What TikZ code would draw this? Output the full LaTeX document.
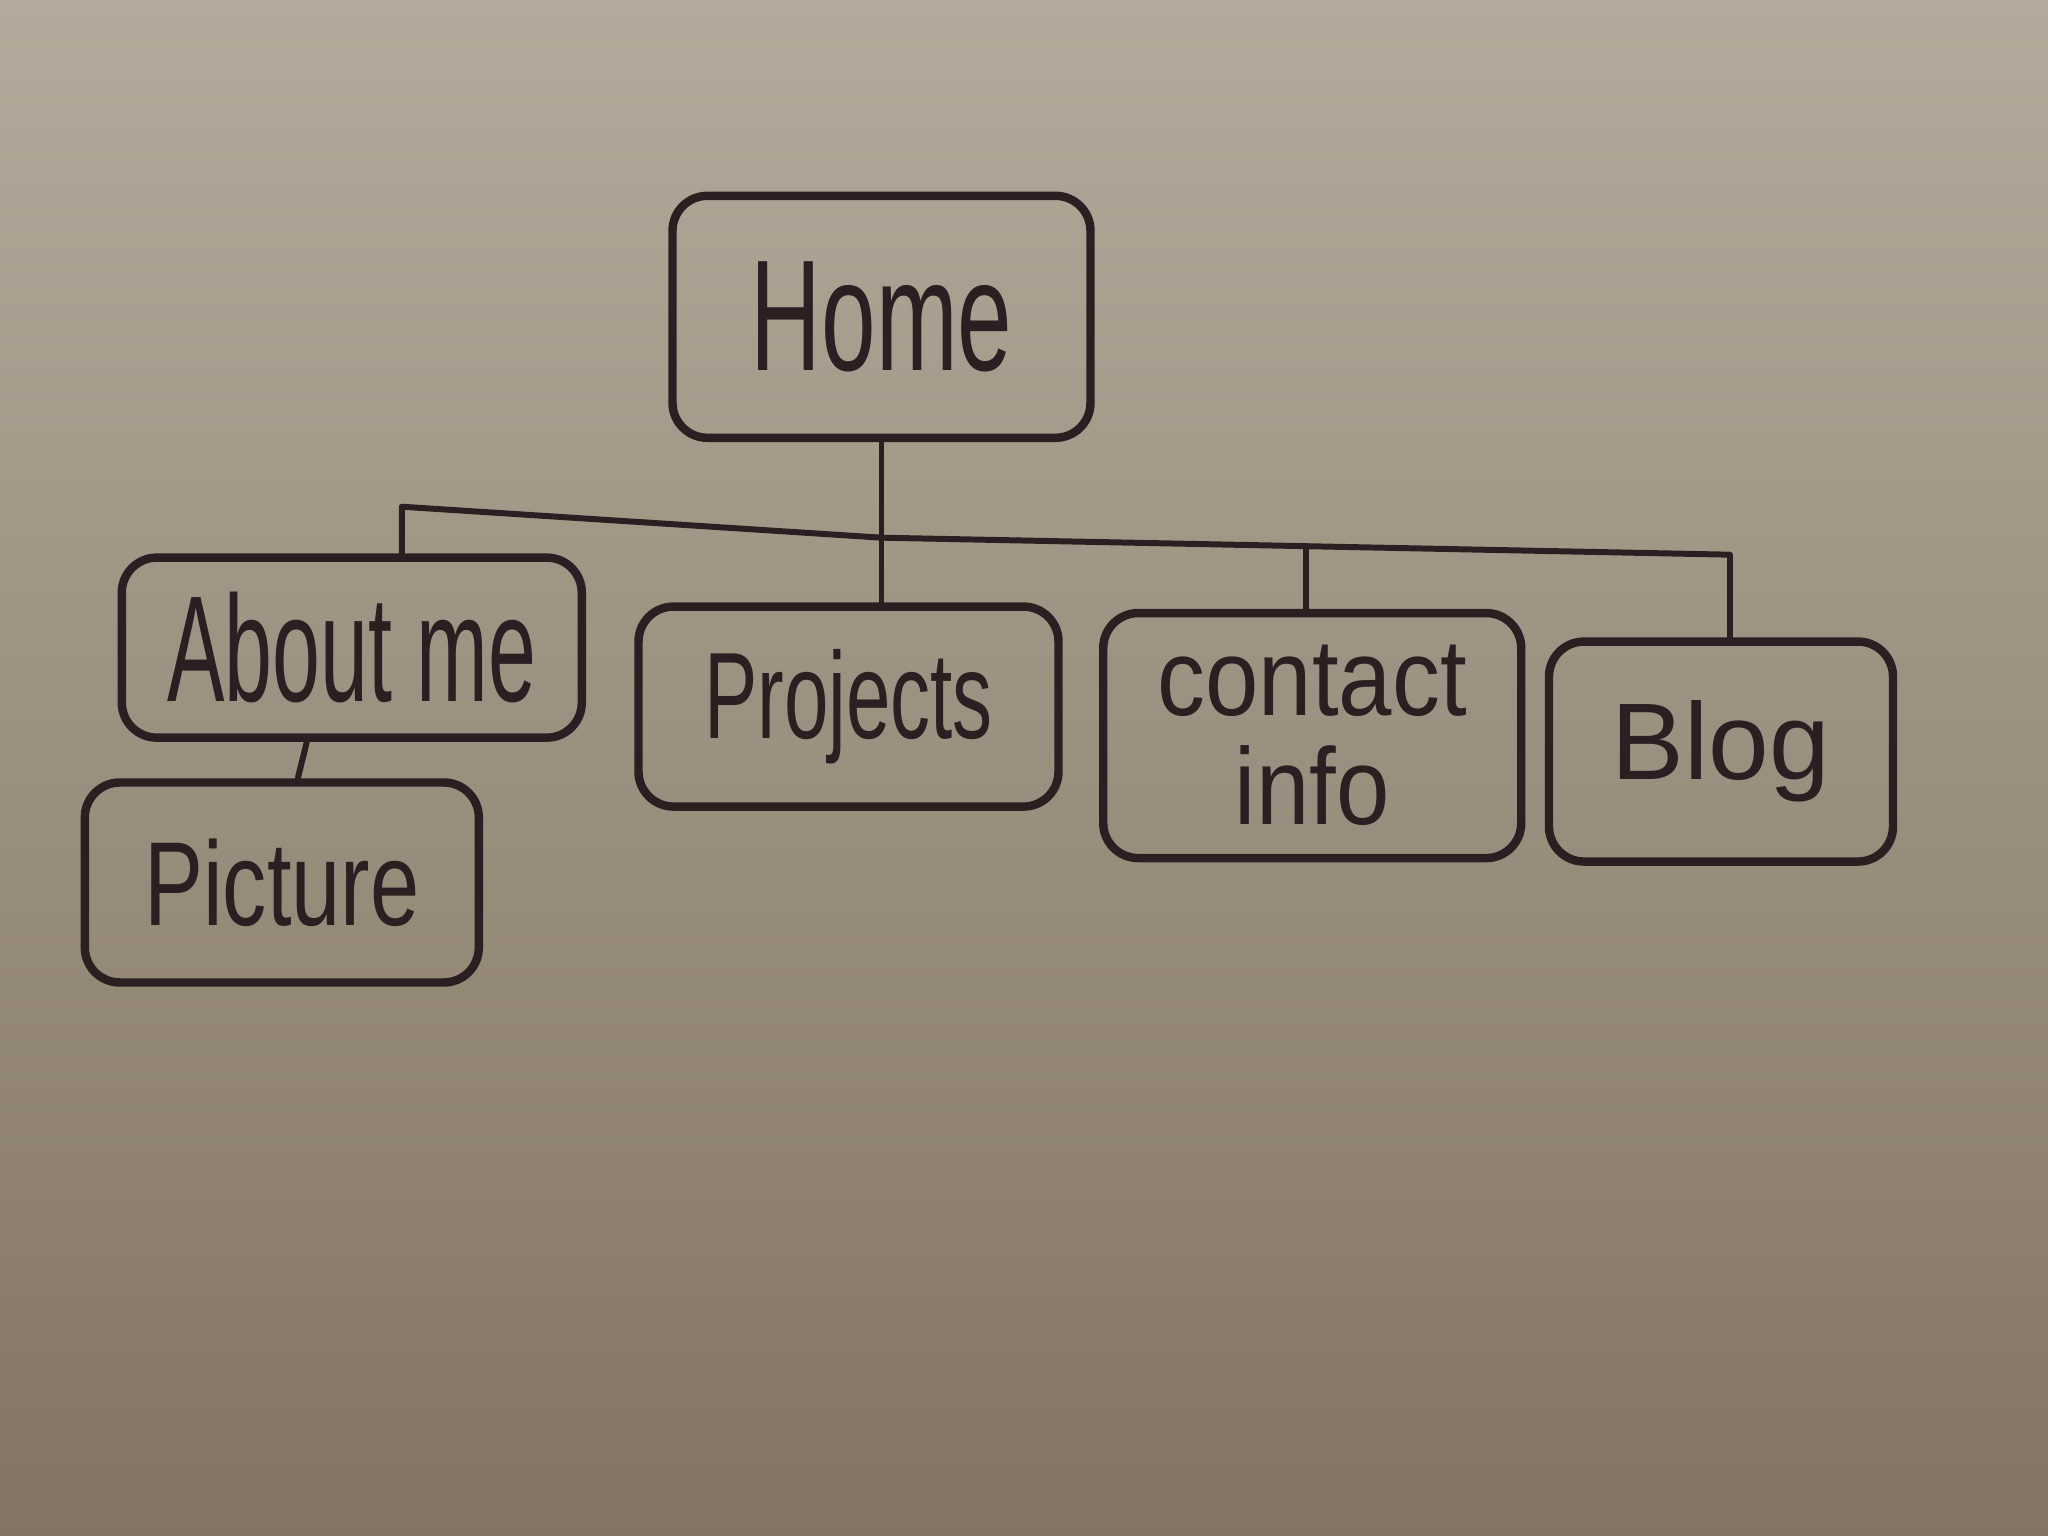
\documentclass[tikz,border=0pt]{standalone}
\usepackage{fontspec}
\setmainfont{Liberation Sans}
\usetikzlibrary{calc}
\definecolor{ink}{HTML}{2B1F21}
\definecolor{papertop}{HTML}{B3AA9B}
\definecolor{papermid}{HTML}{A89C8A}
\definecolor{paperbot}{HTML}{837563}
\begin{document}
\begin{tikzpicture}[x=0.01cm,y=-0.01cm,
  box/.style={draw=ink, line width=2.4pt, rounded corners=0.35cm, inner sep=0pt, text=ink, align=center},
  link/.style={draw=ink, line width=1.7pt, line join=round, line cap=round}]
\shade[top color=papertop, middle color=papermid, bottom color=paperbot] (0cm,0cm) rectangle (20.48cm,-15.36cm);
\useasboundingbox (0cm,0cm) rectangle (20.48cm,-15.36cm);

\node[box, minimum width=4.18cm, minimum height=2.42cm, font=\fontsize{45}{50}\selectfont] (home) at (882,317) {\scalebox{0.62}[1]{Home}};
\node[box, minimum width=4.6cm, minimum height=1.8cm, font=\fontsize{43}{48}\selectfont] (about) at (352,648) {\scalebox{0.57}[1]{About me}};
\node[box, minimum width=4.2cm, minimum height=2.0cm, font=\fontsize{35}{40}\selectfont] (proj) at (849,707) {\scalebox{0.65}[1]{Projects}};
\node[box, minimum width=4.18cm, minimum height=2.45cm, font=\fontsize{31}{31}\selectfont] (contact) at (1313,736) {\scalebox{0.88}[1]{contact}\\\scalebox{0.88}[1]{info}};
\node[box, minimum width=3.44cm, minimum height=2.2cm, font=\fontsize{31}{36}\selectfont] (blog) at (1722,752) {Blog};
\node[box, minimum width=3.94cm, minimum height=2.0cm, font=\fontsize{34}{40}\selectfont] (pic) at (282,883) {\scalebox{0.74}[1]{Picture}};

\coordinate (busL) at (402,507);
\coordinate (busM) at (882,538);
\coordinate (busR) at (1731,555);
\coordinate (busC) at ($(busM)!0.5!(busR)$);

\draw[link] (home.south) -- (busM);
\draw[link] (busL |- about.north) -- (busL) -- (busM) -- (busR) -- (busR |- blog.north);
\draw[link] (busM) -- (busM |- proj.north);
\draw[link] (busC) -- (busC |- contact.north);
\draw[link] ($(about.south)+(-45,0)$) -- ($(pic.north)+(16,0)$);
\end{tikzpicture}
\end{document}
